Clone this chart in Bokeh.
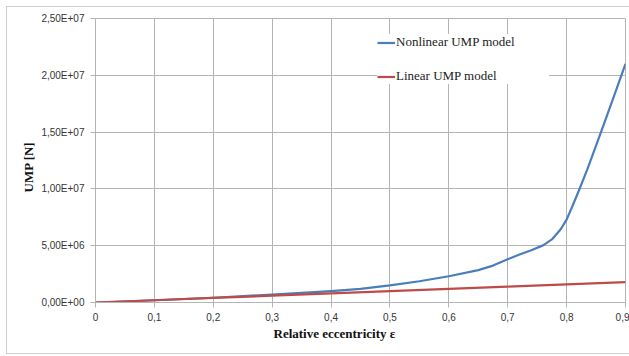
from bokeh.plotting import figure
from bokeh.models import Range1d, FixedTicker, Title
from bokeh.embed import file_html
from bokeh.resources import INLINE

# ---- data ----
eps_nonlinear = [0.0, 0.1, 0.2, 0.3, 0.4, 0.45, 0.5, 0.55, 0.6, 0.65, 0.675, 0.7, 0.72,
                 0.74, 0.76, 0.775, 0.79, 0.8, 0.81, 0.82, 0.835, 0.85, 0.865, 0.88, 0.9]
ump_nonlinear = [0.0, 0.2e6, 0.42e6, 0.7e6, 1.0e6, 1.2e6, 1.5e6, 1.87e6, 2.31e6, 2.85e6,
                 3.25e6, 3.8e6, 4.22e6, 4.6e6, 5.03e6, 5.55e6, 6.45e6, 7.3e6, 8.5e6, 9.75e6,
                 11.7e6, 13.8e6, 15.95e6, 18.1e6, 21.0e6]
eps_linear = [0.0, 0.1, 0.2, 0.3, 0.4, 0.5, 0.6, 0.7, 0.8, 0.9]
ump_linear = [0.0, 0.2e6, 0.4e6, 0.6e6, 0.8e6, 1.0e6, 1.2e6, 1.4e6, 1.6e6, 1.8e6]

x_ticks = [0.0, 0.1, 0.2, 0.3, 0.4, 0.5, 0.6, 0.7, 0.8, 0.9]
y_ticks = [0.0, 5e6, 1e7, 1.5e7, 2e7, 2.5e7]
series_names = ["Nonlinear UMP model", "Linear UMP model"]
x_title = "Relative eccentricity ε"
y_title = "UMP [N]"

GRID = "#b4b4b4"
FRAME = "#cfcfcf"

p = figure(width=629, height=356, output_backend="svg", toolbar_location=None,
           x_range=Range1d(0, 0.9), y_range=Range1d(0, 2.5e7),
           min_border_left=95, min_border_right=4, min_border_top=18, min_border_bottom=54)

p.border_fill_color = None
p.background_fill_color = "white"
p.outline_line_color = GRID
p.styles = {
    "background-color": "white",
    "background-image": ("linear-gradient(%s,%s), linear-gradient(%s,%s), linear-gradient(%s,%s)"
                         % (FRAME, FRAME, FRAME, FRAME, FRAME, FRAME)),
    "background-position": "6px 6px, 6px 6px, 6px 353px",
    "background-size": "1px 348px, 623px 1px, 623px 1px",
    "background-repeat": "no-repeat",
}

p.line(eps_nonlinear, ump_nonlinear, line_color="#4a7ebb", line_width=2.2,
       line_join="round", legend_label=series_names[0])
p.line(eps_linear, ump_linear, line_color="#be4b48", line_width=2.2,
       line_join="round", legend_label=series_names[1])

# axes
p.xaxis.ticker = FixedTicker(ticks=x_ticks)
p.yaxis.ticker = FixedTicker(ticks=y_ticks)
p.xaxis.major_label_overrides = {t: ("0" if t == 0 else f"{t:.1f}".replace(".", ",")) for t in x_ticks}
p.yaxis.major_label_overrides = {t: f"{t:.2E}".replace(".", ",") for t in y_ticks}
for ax in (p.xaxis, p.yaxis):
    ax.axis_line_color = GRID
    ax.major_tick_line_color = GRID
    ax.major_tick_out = 5
    ax.major_tick_in = 0
    ax.minor_tick_line_color = None
    ax.major_label_text_font = "Liberation Sans"
    ax.major_label_text_font_size = "10px"
    ax.major_label_text_color = "#353535"
p.xaxis.major_label_standoff = 5
p.yaxis.major_label_standoff = 6

p.grid.grid_line_color = GRID
p.grid.grid_line_width = 1

# axis titles, placed like the reference
p.add_layout(Title(text=y_title, align="left", offset=110, standoff=5,
                   text_font="Liberation Serif", text_font_style="bold", text_font_size="13px",
                   text_color="#111111"), "left")
p.add_layout(Title(text=x_title, align="left", offset=178, standoff=0,
                   text_font="Liberation Serif", text_font_style="bold", text_font_size="13px",
                   text_color="#111111"), "below")

# legend
lg = p.legend[0]
lg.location = (282, 218)
lg.margin = 0
lg.padding = 16
lg.spacing = 18
lg.glyph_width = 18
lg.glyph_height = 15
lg.label_height = 15
lg.label_width = 153
lg.label_standoff = 1
lg.label_text_font = "Liberation Serif"
lg.label_text_font_size = "13px"
lg.label_text_color = "#222222"
lg.border_line_color = None
lg.background_fill_color = "white"
lg.background_fill_alpha = 1.0

open("out.html", "w").write(file_html(p, INLINE))
